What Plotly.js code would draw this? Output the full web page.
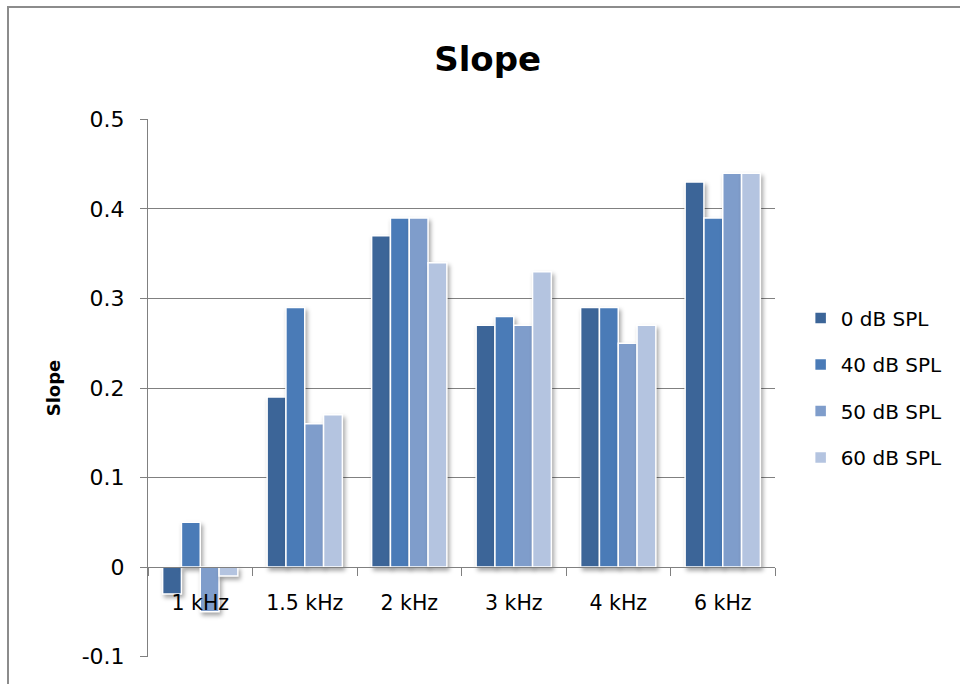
<!DOCTYPE html>
<html>
<head>
<meta charset="utf-8">
<script src="https://cdn.plot.ly/plotly-3.0.1.min.js"></script>
<style>
  html, body { margin: 0; padding: 0; background: #ffffff; }
  #chart { width: 960px; height: 684px; }
  .barlayer .point path { filter: drop-shadow(2px 3px 2px rgba(0,0,0,0.35)); }
</style>
</head>
<body>
<div id="chart"></div>
<script>
const categories = ["1 kHz", "1.5 kHz", "2 kHz", "3 kHz", "4 kHz", "6 kHz"];
const seriesNames = ["0 dB SPL", "40 dB SPL", "50 dB SPL", "60 dB SPL"];
const spl0  = [-0.03, 0.19, 0.37, 0.27, 0.29, 0.43];
const spl40 = [ 0.05, 0.29, 0.39, 0.28, 0.29, 0.39];
const spl50 = [-0.05, 0.16, 0.39, 0.27, 0.25, 0.44];
const spl60 = [-0.01, 0.17, 0.34, 0.33, 0.27, 0.44];
const yTickVals = [-0.1, 0, 0.1, 0.2, 0.3, 0.4, 0.5];
const yTickText = ["-0.1", "0", "0.1", "0.2", "0.3", "0.4", "0.5"];

const colors = ["#3c6598", "#4a7bb7", "#7f9dcb", "#b4c4e0"];
const values = [spl0, spl40, spl50, spl60];

const traces = values.map((v, i) => ({
  type: "bar",
  name: seriesNames[i],
  x: categories,
  y: v,
  legendgroup: "g" + i,
  marker: { color: colors[i], line: { color: "#ffffff", width: 1.5 } },
  hoverinfo: "skip"
}));

const font = "DejaVu Sans, sans-serif";
const gridCol = "#808080";

const layout = {
  width: 960,
  height: 684,
  margin: { l: 148, r: 185, t: 119, b: 27 },
  paper_bgcolor: "#ffffff",
  plot_bgcolor: "#ffffff",
  font: { family: font, color: "#000000" },
  title: {
    text: "<b>Slope</b>",
    font: { family: font, size: 34, color: "#000000" },
    xref: "container", x: 0.508, xanchor: "center",
    yref: "container", y: 0.913, yanchor: "middle"
  },
  barmode: "group",
  bargap: 0.28,
  bargroupgap: 0,
  showlegend: true,
  legend: {
    xref: "container", x: 0.834, xanchor: "left",
    y: 0.5, yanchor: "middle",
    traceorder: "grouped",
    tracegroupgap: 17.5,
    font: { family: font, size: 20, color: "#000000" },
    bgcolor: "rgba(0,0,0,0)"
  },
  xaxis: {
    type: "category",
    anchor: "free",
    position: (657 - 567) / 538,
    showline: true,
    linecolor: gridCol,
    linewidth: 1,
    ticks: "outside",
    tickson: "boundaries",
    ticklen: 8,
    tickcolor: gridCol,
    ticklabelstandoff: 17,
    tickfont: { family: font, size: 20.5, color: "#000000" },
    showgrid: false,
    zeroline: false
  },
  yaxis: {
    range: [-0.1005, 0.5005],
    tickvals: yTickVals,
    ticktext: yTickText,
    ticks: "outside",
    ticklen: 7,
    tickcolor: gridCol,
    ticklabelstandoff: 11,
    tickfont: { family: font, size: 22, color: "#000000" },
    showline: true,
    linecolor: gridCol,
    linewidth: 1,
    showgrid: true,
    gridcolor: gridCol,
    gridwidth: 1,
    zeroline: false,
    title: {
      text: "<b>Slope</b>",
      font: { family: font, size: 18, color: "#000000" },
      standoff: 16
    }
  },
  shapes: [
    {
      type: "rect", xref: "paper", yref: "paper",
      x0: (8 - 148) / 627, x1: 1.6,
      y0: -0.5, y1: (657 - 7) / 538,
      line: { color: "#8c8c8c", width: 2 },
      fillcolor: "rgba(0,0,0,0)",
      layer: "below"
    }
  ]
};

Plotly.newPlot("chart", traces, layout, { displayModeBar: false, staticPlot: true });
</script>
</body>
</html>
